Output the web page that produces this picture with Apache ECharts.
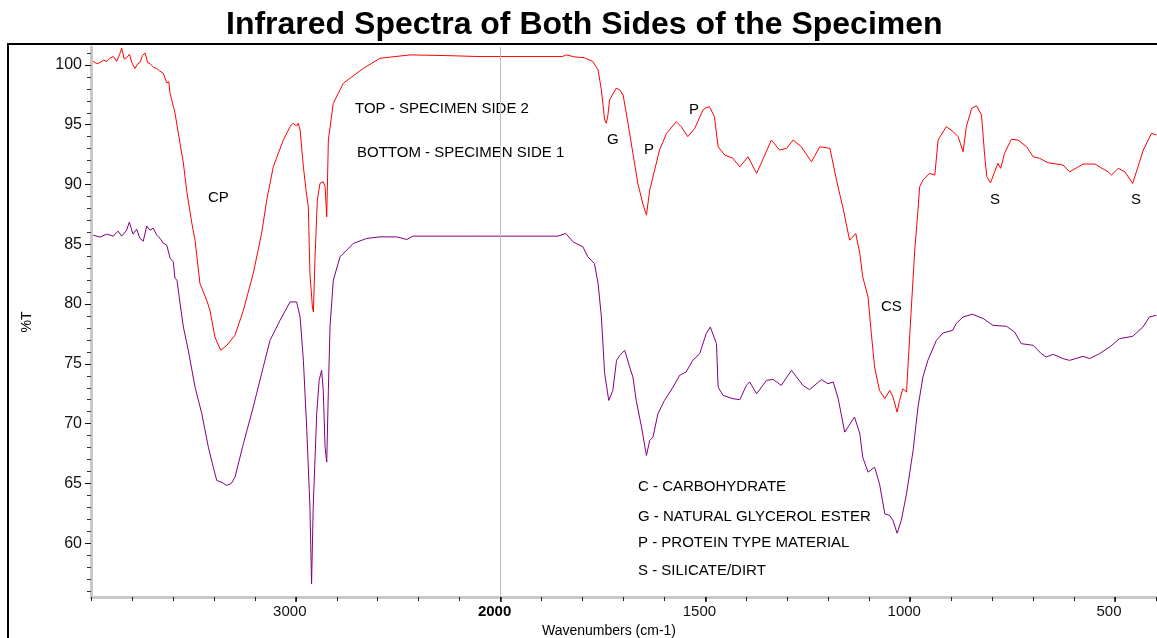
<!DOCTYPE html>
<html>
<head>
<meta charset="utf-8">
<script src="https://cdn.jsdelivr.net/npm/echarts@6/dist/echarts.min.js"></script>
<style>
html,body{margin:0;padding:0;background:#fff;}
#chart{width:1157px;height:638px;}
</style>
</head>
<body>
<div id="chart"></div>
<script>
// Top spectrum: SPECIMEN SIDE 2 (red)
const topWn = [3990,3970,3956,3940,3923,3905,3891,3875,3860,3850,3838,3826,3812,3801,3785,3772,3761,3748,3736,3724,3712,3695,3679,3665,3647,3630,3620,3614,3590,3565,3549,3533,3508,3492,3468,3435,3419,3395,3367,3337,3297,3256,3208,3167,3142,3110,3061,3028,3014,2996,2988,2979,2963,2950,2939,2931,2919,2914,2906,2895,2882,2866,2857,2849,2841,2817,2768,2670,2589,2442,2263,2101,2000,1849,1840,1819,1795,1775,1762,1754,1746,1742,1738,1734,1718,1709,1701,1689,1677,1665,1653,1644,1636,1624,1612,1595,1571,1559,1543,1526,1506,1499,1490,1478,1469,1453,1433,1416,1396,1375,1364,1339,1319,1302,1286,1266,1241,1221,1196,1180,1164,1148,1133,1123,1116,1103,1095,1087,1075,1062,1050,1042,1032,1026,1018,1009,1001,989,981,977,969,953,940,932,912,895,883,871,863,850,838,826,818,813,804,794,786,779,770,753,737,716,700,684,664,627,611,578,549,517,509,492,476,457,444,431,411,399];
const topT = [100.3,100.1,100.2,100.4,100.3,100.6,100.7,100.3,100.9,101.4,100.5,100.6,100.9,100.2,99.7,100.1,100.2,100.8,101.0,100.2,100.1,99.8,99.7,99.5,99.3,98.5,98.6,97.6,96.0,93.4,91.8,89.5,86.8,85.34,81.72,80.32,79.48,77.25,76.13,76.55,77.39,79.48,82.55,85.90,88.69,91.48,93.72,94.83,95.12,94.9,95.12,94.56,91.48,89.5,88.13,82.55,79.76,79.34,83.95,88.69,90.09,90.23,89.81,87.30,93.72,96.79,98.47,99.72,100.56,100.84,100.78,100.70,100.70,100.70,100.84,100.67,100.6,100.28,99.58,97.91,95.39,95.12,95.81,97.07,98.05,97.91,97.49,95.12,92.60,90.09,88.42,87.44,89.53,91.21,92.88,94.28,95.25,94.83,94.00,94.70,96.23,96.4,96.51,95.67,93.16,92.46,92.19,91.48,92.32,90.93,91.77,93.72,92.88,93.02,93.72,93.16,91.90,93.16,93.02,90.37,88.02,85.34,85.90,84.23,82.27,80.60,77.53,74.73,72.78,72.09,72.78,72.22,70.96,71.94,72.92,72.64,77.53,84.51,87.86,89.81,90.37,90.93,90.79,93.72,94.83,94.41,94.00,92.74,94.83,96.37,96.59,95.81,92.32,90.65,90.14,91.06,91.77,91.35,92.60,93.78,93.72,93.16,92.32,92.19,91.82,91.63,91.06,91.71,91.71,91.06,90.79,91.35,91.06,90.09,91.48,92.88,94.28,94.14];

// Bottom spectrum: SPECIMEN SIDE 1 (purple)
const botWn = [3989,3956,3923,3891,3868,3850,3826,3813,3795,3777,3761,3745,3728,3712,3696,3679,3663,3647,3630,3614,3598,3590,3580,3565,3549,3525,3492,3459,3427,3403,3386,3360,3337,3315,3297,3256,3208,3167,3126,3077,3028,2996,2979,2963,2947,2931,2923,2915,2898,2886,2874,2866,2857,2849,2841,2833,2817,2784,2719,2654,2589,2507,2458,2429,2101,1860,1841,1823,1799,1787,1771,1762,1754,1746,1736,1726,1717,1709,1697,1685,1677,1669,1656,1644,1636,1628,1616,1600,1579,1563,1547,1531,1514,1498,1488,1473,1469,1457,1433,1416,1400,1392,1375,1351,1335,1315,1290,1262,1246,1217,1201,1188,1176,1160,1136,1123,1116,1103,1087,1075,1062,1050,1042,1032,1022,1009,993,981,969,957,936,920,896,888,871,848,822,798,765,745,729,700,680,668,651,627,611,578,562,538,513,489,457,432,416,399];
const botT = [85.76,85.6,85.85,85.68,86.1,85.68,86.18,86.85,85.85,86.26,85.5,85.26,86.52,86.18,86.35,85.76,85.5,85.09,84.93,83.84,83.5,82.16,81.99,80.04,78.08,76.13,73.06,70.83,68.03,66.36,65.24,65.08,64.83,65.0,65.52,68.32,71.38,74.18,76.97,78.64,80.18,80.18,78.92,75.29,69.71,63.01,56.59,63.01,70.83,73.62,74.46,72.78,68.03,66.78,72.78,78.08,81.99,83.95,85.07,85.49,85.62,85.62,85.40,85.68,85.68,85.68,85.91,85.20,84.78,83.95,83.39,81.72,78.92,74.18,71.94,72.78,75.29,75.71,76.13,74.73,73.90,71.94,69.71,67.34,68.59,68.87,70.83,71.94,73.06,74.04,74.32,75.29,75.85,77.53,78.08,76.69,73.06,72.36,72.09,72.00,73.20,73.48,72.50,73.62,73.70,73.20,74.46,73.20,72.84,73.68,73.34,73.48,72.12,69.29,70.55,69.15,67.20,65.94,66.36,64.97,62.45,62.31,61.89,60.83,61.89,64.13,67.76,71.38,73.90,75.29,76.97,77.58,77.81,78.37,78.92,79.15,78.79,78.22,78.14,77.66,76.69,76.55,75.85,75.57,75.80,75.44,75.29,75.63,75.44,75.85,76.41,77.11,77.30,78.08,78.92,79.06];

const xLabelWn = [3000, 2000, 1500, 1000, 500];
const yLabelT = [60, 65, 70, 75, 80, 85, 90, 95, 100];

// Split wavenumber scale: above 2000 cm-1 compressed by half
function toAxis(w) { return w <= 2000 ? w : 2000 + (w - 2000) / 2; }
function fromAxis(p) { return p <= 2000 ? p : 2000 + (p - 2000) * 2; }

const topData = topWn.map((w, i) => [toAxis(w), topT[i]]);
const botData = botWn.map((w, i) => [toAxis(w), botT[i]]);

const minorY = []; for (let t = 56; t <= 101; t++) minorY.push(t);

const FONT = '"Liberation Sans", Arial, sans-serif';

const chart = echarts.init(document.getElementById('chart'));
const ann = (text, x, y) => ({
  type: 'text', x: x, y: y, silent: true,
  style: { text: text, fill: '#000', font: '15px ' + FONT, textVerticalAlign: 'middle', verticalAlign: 'middle' }
});

chart.setOption({
  animation: false,
  backgroundColor: '#fff',
  title: {
    text: 'Infrared Spectra of Both Sides of the Specimen',
    left: 221, top: 4,
    textStyle: { fontFamily: FONT, fontSize: 32, fontWeight: 'bold', color: '#000' }
  },
  grid: { left: 91, top: 47, width: 1065, height: 550, containLabel: false },
  xAxis: [
    {
      type: 'value', inverse: true, min: 400, max: 3000, interval: 100,
      axisLine: { show: true, lineStyle: { color: '#c8c8c8', width: 3 } },
      axisTick: { show: true, length: 4, lineStyle: { color: '#222', width: 1 } },
      axisLabel: { show: false },
      splitLine: { show: false }
    },
    {
      type: 'value', inverse: true, min: 400, max: 3000, position: 'bottom',
      axisLine: { show: false },
      axisTick: { show: true, length: 5, customValues: xLabelWn.map(toAxis), lineStyle: { color: '#111', width: 1.5 } },
      axisLabel: {
        show: true, customValues: xLabelWn.map(toAxis), margin: 7,
        fontFamily: FONT, fontSize: 15, color: '#111', padding: [0, 12, 0, 0],
        formatter: function (v) {
          const w = Math.round(fromAxis(v));
          return w === 2000 ? '{b|2000}' : String(w);
        },
        rich: { b: { fontFamily: FONT, fontSize: 15, fontWeight: 'bold', color: '#000' } }
      },
      splitLine: { show: false }
    }
  ],
  yAxis: [
    {
      type: 'value', min: 55.5, max: 101.5,
      axisLine: { show: true, lineStyle: { color: '#c8c8c8', width: 3 } },
      axisTick: { show: true, length: 4, customValues: minorY, lineStyle: { color: '#333', width: 1 } },
      axisLabel: { show: false },
      splitLine: { show: false },
      name: '%T', nameLocation: 'middle', nameGap: 57, nameRotate: 90,
      nameTextStyle: { fontFamily: FONT, fontSize: 14, color: '#000' }
    },
    {
      type: 'value', min: 55.5, max: 101.5, position: 'left',
      axisLine: { show: false },
      axisTick: { show: true, length: 6, customValues: yLabelT, lineStyle: { color: '#111', width: 1 } },
      axisLabel: { show: true, customValues: yLabelT, margin: 9, fontFamily: FONT, fontSize: 16, color: '#111' },
      splitLine: { show: false }
    }
  ],
  series: [
    {
      name: 'TOP - SPECIMEN SIDE 2', type: 'line', data: topData,
      xAxisIndex: 0, yAxisIndex: 0, showSymbol: false, smooth: false,
      lineStyle: { color: '#ff0000', width: 1 }, itemStyle: { color: '#ff0000' },
      z: 3,
      markLine: {
        silent: true, symbol: 'none', label: { show: false },
        lineStyle: { color: '#bdbdbd', width: 1, type: 'solid' },
        data: [{ xAxis: toAxis(2000) }]
      }
    },
    {
      name: 'BOTTOM - SPECIMEN SIDE 1', type: 'line', data: botData,
      xAxisIndex: 0, yAxisIndex: 0, showSymbol: false, smooth: false,
      lineStyle: { color: '#800080', width: 1 }, itemStyle: { color: '#800080' },
      z: 3
    }
  ],
  graphic: [
    { type: 'rect', silent: true, shape: { x: 8, y: 44, width: 1160, height: 610 },
      style: { fill: 'none', stroke: '#000', lineWidth: 2 } },
    { type: 'text', silent: true, x: 609, y: 631,
      style: { text: 'Wavenumbers (cm-1)', fill: '#000', font: '14px ' + FONT, textAlign: 'center', align: 'center', textVerticalAlign: 'middle', verticalAlign: 'middle' } },
    ann('TOP - SPECIMEN SIDE 2', 355, 109),
    ann('BOTTOM - SPECIMEN SIDE 1', 357, 153),
    ann('CP', 208, 198),
    ann('G', 607, 140),
    ann('P', 644, 150),
    ann('P', 689, 110),
    ann('CS', 881, 307),
    ann('S', 990, 200),
    ann('S', 1131, 200),
    ann('C - CARBOHYDRATE', 638, 487),
    ann('G - NATURAL GLYCEROL ESTER', 638, 517),
    ann('P - PROTEIN TYPE MATERIAL', 638, 543),
    ann('S - SILICATE/DIRT', 638, 571)
  ]
});
</script>
</body>
</html>
